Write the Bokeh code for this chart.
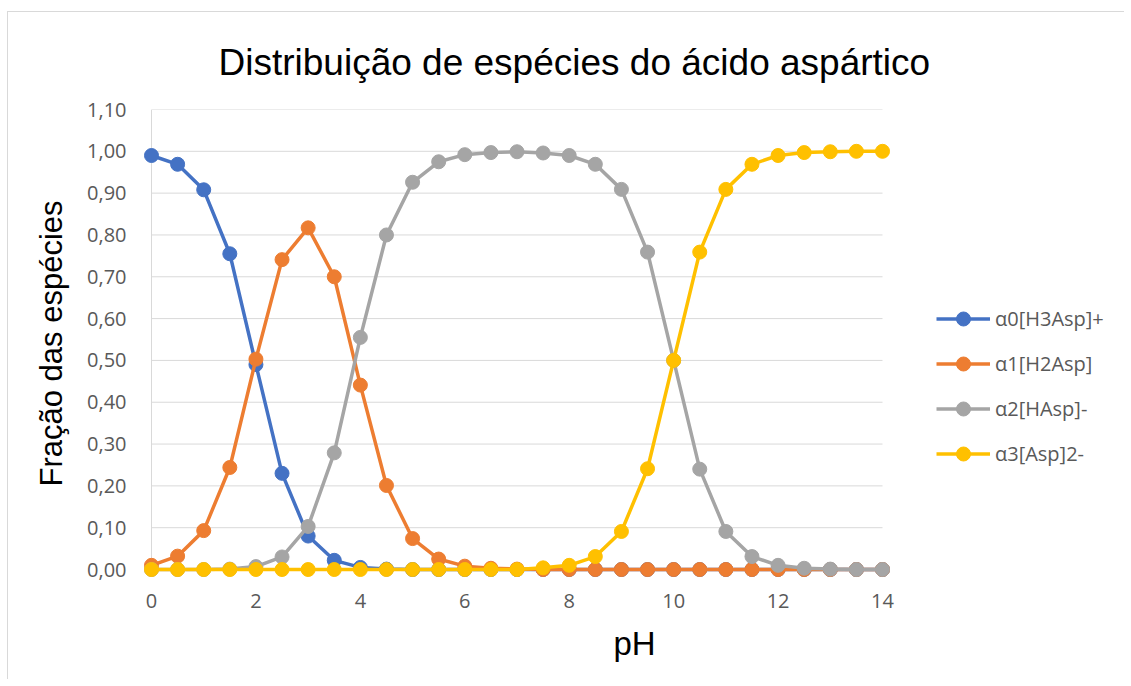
from bokeh.plotting import figure
from bokeh.models import (FixedTicker, CustomJSTickFormatter, Range1d, Legend,
                          LegendItem)
from bokeh.embed import file_html
from bokeh.resources import INLINE

# ---- data ----
ph = [0, 0.5, 1, 1.5, 2, 2.5, 3, 3.5, 4, 4.5, 5, 5.5, 6, 6.5, 7, 7.5,
      8, 8.5, 9, 9.5, 10, 10.5, 11, 11.5, 12, 12.5, 13, 13.5, 14]
alpha0 = [0.990, 0.969, 0.908, 0.755, 0.490, 0.230, 0.080, 0.022, 0.005, 0.001,
          0.000, 0.000, 0.000, 0.000, 0.000, 0.000, 0.000, 0.000, 0.000, 0.000,
          0.000, 0.000, 0.000, 0.000, 0.000, 0.000, 0.000, 0.000, 0.000]
alpha1 = [0.010, 0.032, 0.093, 0.244, 0.503, 0.741, 0.817, 0.700, 0.441, 0.201,
          0.074, 0.025, 0.008, 0.003, 0.001, 0.000, 0.000, 0.000, 0.000, 0.000,
          0.000, 0.000, 0.000, 0.000, 0.000, 0.000, 0.000, 0.000, 0.000]
alpha2 = [0.000, 0.000, 0.000, 0.001, 0.007, 0.030, 0.103, 0.279, 0.555, 0.800,
          0.926, 0.975, 0.992, 0.997, 0.999, 0.996, 0.990, 0.969, 0.909, 0.759,
          0.500, 0.240, 0.091, 0.031, 0.010, 0.003, 0.001, 0.000, 0.000]
alpha3 = [0.000, 0.000, 0.000, 0.000, 0.000, 0.000, 0.000, 0.000, 0.000, 0.000,
          0.000, 0.000, 0.000, 0.000, 0.000, 0.004, 0.010, 0.031, 0.091, 0.241,
          0.500, 0.759, 0.909, 0.969, 0.990, 0.997, 0.999, 1.000, 1.000]
series_names = ["α0[H3Asp]+", "α1[H2Asp]", "α2[HAsp]-", "α3[Asp]2-"]
series_colors = ["#4472C4", "#ED7D31", "#A5A5A5", "#FFC000"]
x_ticks = [0, 2, 4, 6, 8, 10, 12, 14]
y_ticks = [0.0, 0.1, 0.2, 0.3, 0.4, 0.5, 0.6, 0.7, 0.8, 0.9, 1.0, 1.1]
title_text = "Distribuição de espécies do ácido aspártico"
x_title = "pH"
y_title = "Fração das espécies"

TICK_FONT = "Open Sans"
TEXT_FONT = "Liberation Sans"
GRAY = "#595959"
GRID = "#D9D9D9"

# the chart sits inside a light border whose corner is at page (7, 11)
OX, OY = 8, 12
W, H = 1125 - OX, 680 - OY
FL, FR, FT, FB = 151 - OX, 882 - OX, 108 - OY, 569 - OY   # axis box in canvas px
PAD = 8                                  # extra room so edge markers are not clipped
x0, x1 = x_ticks[0], x_ticks[-1]
y0, y1 = y_ticks[0], y_ticks[-1]
xpp = (x1 - x0) / (FR - FL)
ypp = (y1 - y0) / (FB - FT)

# frame extends to the right edge so that the legend can live inside it
p = figure(width=W, height=H, output_backend="svg", toolbar_location=None,
           x_range=Range1d(x0 - PAD * xpp, x1 + (W - FR) * xpp),
           y_range=Range1d(y0 - PAD * ypp, y1),
           min_border_left=FL - PAD, min_border_right=0,
           min_border_top=FT, min_border_bottom=H - FB - PAD)
p.outline_line_color = None
p.background_fill_color = "white"
p.border_fill_color = "white"
p.styles = {"margin-left": f"{OX - 1}px", "margin-top": f"{OY - 1}px",
            "border-left": "1px solid #D9D9D9", "border-top": "1px solid #D9D9D9"}

# grid (drawn as segments so it stops at the axis box)
p.xgrid.grid_line_color = None
p.ygrid.grid_line_color = None
p.segment(x0=[x0] * len(y_ticks), y0=y_ticks, x1=[x1] * len(y_ticks), y1=y_ticks,
          line_color=GRID, line_width=1)
# vertical axis line at x = 0
p.segment(x0=[x0], y0=[y0], x1=[x0], y1=[y1], line_color=GRID, line_width=1)

# axes
p.xaxis.ticker = FixedTicker(ticks=x_ticks)
p.yaxis.ticker = FixedTicker(ticks=y_ticks)
p.yaxis.formatter = CustomJSTickFormatter(code="return tick.toFixed(2).replace('.', ',');")
for ax in (p.xaxis[0], p.yaxis[0]):
    ax.axis_line_color = None
    ax.major_tick_line_color = None
    ax.minor_tick_line_color = None
    ax.major_label_text_font = TICK_FONT
    ax.major_label_text_font_size = "20px"
    ax.major_label_text_color = GRAY
    ax.axis_label_text_font = TEXT_FONT
    ax.axis_label_text_font_style = "normal"
    ax.axis_label_text_color = "#000000"
p.xaxis.major_label_standoff = 10
p.yaxis.major_label_standoff = 11
p.xaxis.axis_label = x_title
p.xaxis.axis_label_text_font_size = "33px"
p.xaxis.axis_label_standoff = 14
p.yaxis.axis_label = y_title
p.yaxis.axis_label_text_font_size = "31px"
p.yaxis.axis_label_standoff = 15

# series
items = []
for ys, name, col in zip([alpha0, alpha1, alpha2, alpha3], series_names, series_colors):
    lr = p.line(ph, ys, line_color=col, line_width=3.5)
    sr = p.scatter(ph, ys, size=14, fill_color=col, line_color=col)
    items.append(LegendItem(label=name, renderers=[lr, sr]))

legend = Legend(items=items, location=((936 - OX) - (FL - PAD), (FB + PAD) - (471 - OY)),
                orientation="vertical",
                glyph_width=54, glyph_height=35, label_height=35, spacing=10,
                label_standoff=5, padding=0, margin=0,
                border_line_color=None, background_fill_alpha=0,
                label_text_font=TICK_FONT, label_text_font_size="20px",
                label_text_color=GRAY)
p.add_layout(legend, "center")

p.title.text = title_text
p.title.align = "left"
p.title.offset = 75
p.title.standoff = 54
p.title.text_line_height = 1.0
p.title.text_font = TEXT_FONT
p.title.text_font_size = "37px"
p.title.text_font_style = "normal"
p.title.text_color = "#000000"

open("out.html", "w").write(file_html(p, INLINE))
